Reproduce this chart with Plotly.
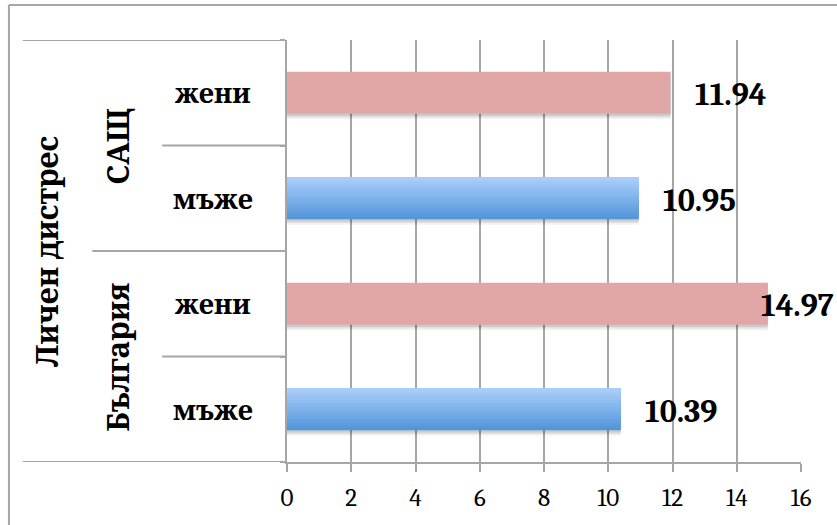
import plotly.graph_objects as go

# ---- data (bottom to top) ----
group_title = "Личен дистрес"
countries = ["България", "България", "САЩ", "САЩ"]
genders = ["мъже", "жени", "мъже", "жени"]
values = [10.39, 14.97, 10.95, 11.94]
x_ticks = [0, 2, 4, 6, 8, 10, 12, 14, 16]

keys = [f"{c} · {g}" for c, g in zip(countries, genders)]

GRID = "#A6A6A6"
FONT = "Cambria"
CYR_FONT = "Noto Serif"
BAR_W = 0.4
blue_bottom = (0x53, 0x96, 0xDA)
blue_top = (0xAA, 0xCE, 0xFB)
pink = "#E0A7A6"

fig = go.Figure()

# shadows
for k, (dy, a) in enumerate([(0.05, 0.05), (0.035, 0.07), (0.02, 0.09)]):
    fig.add_trace(go.Bar(
        x=values, y=keys, orientation="h", width=BAR_W,
        offset=-BAR_W / 2 - dy,
        marker=dict(color=f"rgba(0,0,0,{a})", line=dict(width=0)),
        hoverinfo="skip", showlegend=False))

# men: gradient bars built from stacked layers (each layer reaches the bar top)
men_x = [v if g == "мъже" else None for v, g in zip(values, genders)]
N = 18
step = BAR_W / N
for i in range(N):
    t = i / (N - 1)
    col = tuple(round(b + (tp - b) * t) for b, tp in zip(blue_bottom, blue_top))
    fig.add_trace(go.Bar(
        x=men_x, y=keys, orientation="h", width=BAR_W - i * step,
        offset=-BAR_W / 2 + i * step,
        marker=dict(color="rgb(%d,%d,%d)" % col, line=dict(width=0)),
        hoverinfo="skip", showlegend=False))

# women: flat pink bars
women_x = [v if g == "жени" else None for v, g in zip(values, genders)]
fig.add_trace(go.Bar(
    x=women_x, y=keys, orientation="h", width=BAR_W, offset=-BAR_W / 2,
    marker=dict(color=pink, line=dict(width=0)),
    hoverinfo="skip", showlegend=False))

LABEL_FONT = dict(family=FONT, size=32, color="black")
annotations = []
# value labels
for k, v in zip(keys, values):
    txt = f"<b>{v:.2f}</b>"
    if v + 2.2 > x_ticks[-1]:
        annotations.append(dict(x=1.068, xref="paper", y=k, yref="y", text=txt,
                                showarrow=False, xanchor="right", yanchor="middle", yshift=-2,
                                font=LABEL_FONT))
    else:
        annotations.append(dict(x=v, xref="x", y=k, yref="y", text=txt,
                                showarrow=False, xanchor="left", xshift=22, yanchor="middle", yshift=-2,
                                font=LABEL_FONT))

CAT_FONT = dict(family=CYR_FONT, size=27, color="black")
ROT_FONT = dict(family=CYR_FONT, size=30, color="black")
# gender labels
for k, g in zip(keys, genders):
    annotations.append(dict(x=-0.144, xref="paper", y=k, yref="y", text=f"<b>{g}</b>", showarrow=False,
                            xanchor="center", yanchor="middle", font=CAT_FONT))
# country labels (rotated)
seen = []
for c in countries:
    if c not in seen:
        seen.append(c)
for c in seen:
    idx = [i for i, cc in enumerate(countries) if cc == c]
    ymid = (idx[0] + idx[-1]) / 2
    annotations.append(dict(x=-0.329, xref="paper", y=ymid, yref="y", text=f"<b>{c}</b>", showarrow=False,
                            textangle=-90, xanchor="center", yanchor="middle", font=ROT_FONT))
annotations.append(dict(x=-0.469, xref="paper", y=(len(keys) - 1) / 2, yref="y", text=f"<b>{group_title}</b>",
                        showarrow=False, textangle=-90, xanchor="center", yanchor="middle",
                        font=ROT_FONT))

line = dict(color=GRID, width=2)
shapes = [
    dict(type="line", xref="paper", yref="y", x0=-0.514, x1=0, y0=len(keys) - 0.5, y1=len(keys) - 0.5, line=line),
    dict(type="line", xref="paper", yref="y", x0=-0.514, x1=0, y0=-0.5, y1=-0.5, line=line),
    dict(type="line", xref="paper", yref="y", x0=-0.379, x1=0, y0=1.5, y1=1.5, line=line),
    dict(type="line", xref="paper", yref="y", x0=-0.243, x1=0, y0=0.5, y1=0.5, line=line),
    dict(type="line", xref="paper", yref="y", x0=-0.243, x1=0, y0=2.5, y1=2.5, line=line),
    # outer chart border (left and top)
    dict(type="line", xref="paper", yref="paper", x0=-0.541, x1=-0.541, y0=-0.3, y1=1.083, line=line),
    dict(type="line", xref="paper", yref="paper", x0=-0.541, x1=1.2, y0=1.083, y1=1.083, line=line),
]

fig.update_layout(
    width=837, height=525,
    margin=dict(l=287, r=36, t=40, b=63),
    paper_bgcolor="white", plot_bgcolor="white",
    font=dict(family=FONT, color="black"),
    barmode="overlay", bargap=0.6,
    showlegend=False,
    annotations=annotations, shapes=shapes,
    xaxis=dict(range=[0, 16], tickvals=x_ticks, ticktext=[str(t) for t in x_ticks],
               showgrid=True, gridcolor=GRID, gridwidth=2,
               showline=True, linecolor=GRID, linewidth=2,
               ticks="outside", ticklen=8, tickcolor=GRID, tickwidth=2,
               ticklabelstandoff=4,
               tickfont=dict(family=FONT, size=25, color="black"),
               zeroline=False, fixedrange=True),
    yaxis=dict(categoryorder="array", categoryarray=keys, type="category",
               showticklabels=False, showgrid=False,
               showline=True, linecolor=GRID, linewidth=2,
               ticks="outside", tickson="boundaries", ticklen=5, tickcolor=GRID, tickwidth=2,
               range=[-0.5, len(keys) - 0.5], fixedrange=True),
)

fig.write_html("out.html", config={"displayModeBar": False},
               post_script="document.body.style.margin='0';document.body.style.overflow='hidden';")
